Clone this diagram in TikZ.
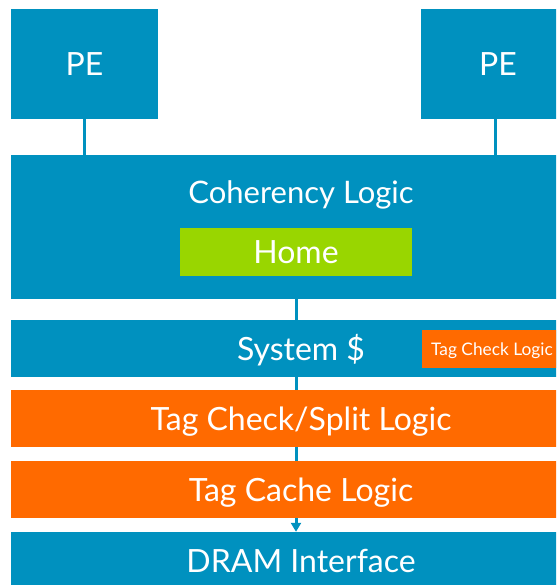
\documentclass[tikz,border=0pt]{standalone}
\usepackage{fontspec}
\setmainfont{Lato}
\usepackage{xcolor}
\usepackage{tikz}
\usetikzlibrary{arrows.meta}
\definecolor{peblue}{RGB}{0,145,191}
\definecolor{homegreen}{RGB}{153,214,0}
\definecolor{tagorange}{RGB}{255,106,0}

\begin{document}
\begin{tikzpicture}[x=1pt, y=-1pt,
      block/.style={rectangle, fill=peblue, text=white, inner sep=0pt,
        font=\fontsize{32}{38}\selectfont, text height=23pt, text depth=0pt},
      band/.style={block, minimum width=580pt, minimum height=57pt},
      link/.style={draw=peblue, line width=3pt}
      ]
      \useasboundingbox (0,0) rectangle (556,585);
      \clip (0,0) rectangle (556,585);

      \node[block, minimum width=147pt, minimum height=110pt] (pe1) at (84.5,64) {PE};
      \node[block, minimum width=154pt, minimum height=110pt] (pe2) at (498,64) {PE};

      \node[block, minimum width=580pt, minimum height=144pt] (coh) at (301,227) {};
      \node[anchor=base, text=white, inner sep=0pt, font=\fontsize{31}{36}\selectfont] (cohlbl) at (301,204) {Coherency Logic};
      \node[block, fill=homegreen, minimum width=232pt, minimum height=48pt] (home) at (296,252) {Home};

      \node[band] (sys) at (301,348.5) {System \$};
      \node[block, fill=tagorange, anchor=west, minimum height=38pt, inner xsep=9pt,
        font=\fontsize{17.3}{21}\selectfont, text height=12.5pt] (tagchk) at (422,349) {Tag Check Logic};
      \node[band, fill=tagorange] (split) at (301,418.5) {Tag Check/Split Logic};
      \node[band, fill=tagorange] (cache) at (301,489.5) {Tag Cache Logic};
      \node[band] (dram) at (301,560.5) {DRAM Interface};

      \draw[link] (pe1.south) -- (pe1.south |- coh.north);
      \draw[link] ([xshift=-3pt]pe2.south) -- ([xshift=-3pt]pe2.south |- coh.north);
      \draw[link] (home |- coh.south) -- (home |- sys.north);
      \draw[link] (home |- sys.south) -- (home |- split.north);
      \draw[link] (home |- split.south) -- (home |- cache.north);
      \draw[link, -{Triangle[width=10pt,length=9pt]}] (home |- cache.south) -- (home |- dram.north);
    \end{tikzpicture}
\end{document}
